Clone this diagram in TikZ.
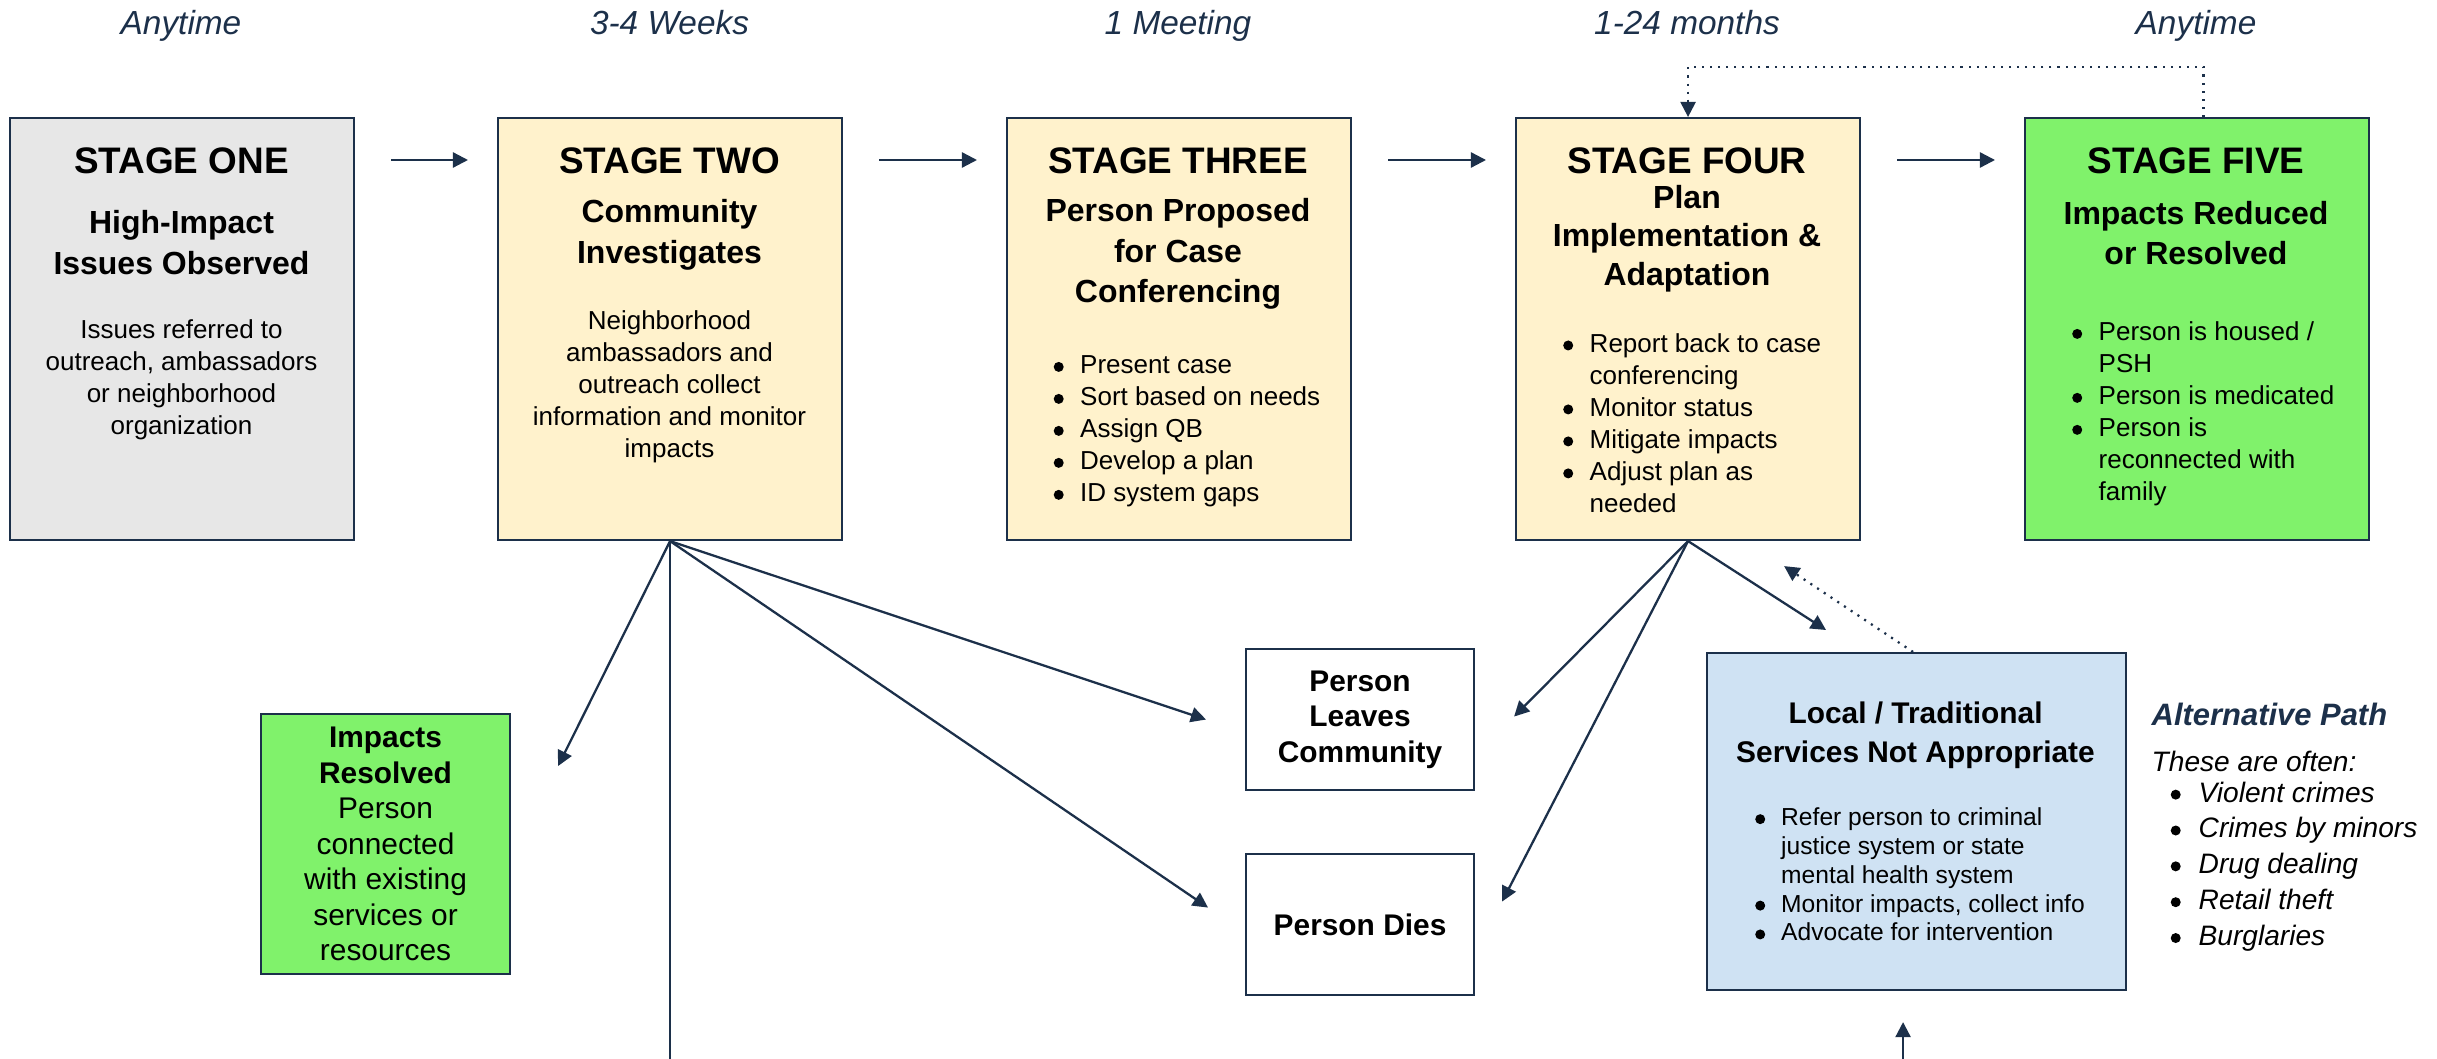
\documentclass[tikz,border=0pt]{standalone}
\usepackage{fontspec}
\setmainfont{Liberation Sans}
\usetikzlibrary{arrows.meta,positioning}

\definecolor{navy}{HTML}{1C304A}
\definecolor{stagegrey}{HTML}{E7E7E7}
\definecolor{stagecream}{HTML}{FFF2CC}
\definecolor{stagegreen}{HTML}{80F26B}
\definecolor{altblue}{HTML}{CFE2F3}

% bullet and hanging indent for the lists
\newcommand{\bdot}{\tikz[baseline=-0.5ex]\fill[black] (0,0) circle (0.5mm);}
\newcommand{\bul}[1][2.65mm]{\makebox[#1][l]{\bdot}}
\newcommand{\ind}[1][2.65mm]{\hspace*{#1}}

\tikzset{
  stagebox/.style={draw=navy, line width=0.6pt, anchor=north west, inner sep=0pt,
                   minimum width=34.4mm, minimum height=42.2mm},
  sidebox/.style={draw=navy, line width=0.6pt, anchor=north west, inner sep=0pt,
                  align=center, font=\fontsize{8.5}{10.1}\selectfont},
  sidebold/.style={sidebox, font=\fontsize{8.5}{10.1}\bfseries\selectfont},
  stagetitle/.style={inner sep=0pt, font=\fontsize{10.5}{12}\bfseries\selectfont},
  stagesub/.style={inner sep=0pt, align=center, font=\fontsize{9.1}{11.6}\bfseries\selectfont},
  stagebody/.style={inner sep=0pt, align=center, font=\fontsize{7.4}{9.1}\selectfont},
  stagelist/.style={inner sep=0pt, anchor=west, align=left, font=\fontsize{7.4}{9.1}\selectfont},
  timelabel/.style={inner sep=0pt, anchor=base, text=navy, font=\fontsize{9.5}{11}\itshape\selectfont},
  flow/.style={draw=navy, line width=0.65pt, -{Triangle[length=4.3pt,width=4.3pt]}},
  dotflow/.style={flow, dash pattern=on 0.6pt off 1.7pt},
}

\begin{document}
\begin{tikzpicture}[x=0.1mm, y=-0.1mm]
\useasboundingbox (0,0) rectangle (2437,1059);
\coordinate (bottom) at (0,1059);

% time line
\node[timelabel] (t1) at (181,35) {Anytime};
\node[timelabel] (t2) at (669.5,35) {3-4 Weeks};
\node[timelabel] (t3) at (1178,35) {1 Meeting};
\node[timelabel] (t4) at (1687,35) {1-24 months};
\node[timelabel] (t5) at (2196,35) {Anytime};

% stages
\node[stagebox, fill=stagegrey] (s1) at (9,117) {};
\node[stagebox, fill=stagecream] (s2) at (497,117) {};
\node[stagebox, fill=stagecream] (s3) at (1006,117) {};
\node[stagebox, fill=stagecream] (s4) at (1515,117) {};
\node[stagebox, fill=stagegreen] (s5) at (2024,117) {};

\node[stagetitle] (s1t) at (181.5,161) {STAGE ONE};
\node[stagesub] (s1s) at (181.5,242.5) {High-Impact\\Issues Observed};
\node[stagebody] (s1b) at (181.5,379.5) {Issues referred to\\outreach, ambassadors\\or neighborhood\\organization};

\node[stagetitle] (s2t) at (669.5,161) {STAGE TWO};
\node[stagesub] (s2s) at (669.5,234.5) {Community\\Investigates};
\node[stagebody] (s2b) at (669.5,387) {Neighborhood\\ambassadors and\\outreach collect\\information and monitor\\impacts};

\node[stagetitle] (s3t) at (1178,161) {STAGE THREE};
\node[stagesub] (s3s) at (1178,254) {Person Proposed\\for Case\\Conferencing};
\node[stagelist] (s3l) at (1053,431.5) {\bul Present case\\\bul Sort based on needs\\\bul Assign QB\\\bul Develop a plan\\\bul ID system gaps};

\node[stagetitle] (s4t) at (1687,161) {STAGE FOUR};
\node[stagesub, font=\fontsize{9.1}{11}\bfseries\selectfont] (s4s) at (1687,238.5) {Plan\\Implementation \&\\Adaptation};
\node[stagelist] (s4l) at (1562.5,423) {\bul Report back to case\\\ind conferencing\\\bul Monitor status\\\bul Mitigate impacts\\\bul Adjust plan as\\\ind needed};

\node[stagetitle] (s5t) at (2196,161) {STAGE FIVE};
\node[stagesub] (s5s) at (2196,233) {Impacts Reduced\\or Resolved};
\node[stagelist] (s5l) at (2071.5,414) {\bul Person is housed /\\\ind PSH\\\bul Person is medicated\\\bul Person is\\\ind reconnected with\\\ind family};

\foreach \a/\b in {s1/s2,s2/s3,s3/s4,s4/s5}
  \draw[flow] ([shift={(36,43)}]\a.north east) -- ([shift={(-29,43)}]\b.north west);
\draw[dotflow] ([xshift=0.65mm]s5.north) -- ++(0,-50) -| (s4.north);

% outcomes
\node[sidebox, fill=stagegreen, minimum width=24.9mm, minimum height=26mm] (resolved) at (260,713)
  {\textbf{Impacts}\\\textbf{Resolved}\\Person\\connected\\with existing\\services or\\resources};
\node[sidebold, fill=white, minimum width=22.8mm, minimum height=14.1mm] (leaves) at (1245,648) {Person\\Leaves\\Community};
\node[sidebold, fill=white, minimum width=22.8mm, minimum height=14.1mm] (dies) at (1245,853) {Person Dies};

\node[sidebox, fill=altblue, minimum width=41.9mm, minimum height=33.7mm] (local) at (1706,652) {};
\node[inner sep=0pt, align=center, font=\fontsize{8.5}{11.1}\bfseries\selectfont] (localt) at (1915.5,735.5)
  {Local / Traditional\\Services Not Appropriate};
\node[stagelist, font=\fontsize{7}{8.2}\selectfont] (locall) at (1754.5,874.5)
  {\bul[2.6mm]Refer person to criminal\\\ind[2.6mm]justice system or state\\\ind[2.6mm]mental health system\\\bul[2.6mm]Monitor impacts, collect info\\\bul[2.6mm]Advocate for intervention};

\node[inner sep=0pt, anchor=west, text=navy, font=\fontsize{8.8}{10}\bfseries\itshape\selectfont] (altt) at (2151,714) {Alternative Path};
\node[inner sep=0pt, anchor=west, font=\fontsize{8}{10}\itshape\selectfont] (altn) at (2151,761) {These are often:};
\node[stagelist, font=\fontsize{8}{10.2}\itshape\selectfont] (altl) at (2170,866.5)
  {\bul[2.8mm]Violent crimes\\\bul[2.8mm]Crimes by minors\\\bul[2.8mm]Drug dealing\\\bul[2.8mm]Retail theft\\\bul[2.8mm]Burglaries};

% stage two branches
\draw[navy, line width=0.65pt] (s2.south) -- (s2.south |- bottom);
\draw[flow] (s2.south) -- ([shift={(47,53)}]resolved.north east);
\draw[flow] (s2.south) -- ([xshift=-3.9mm]leaves.west);
\draw[flow] (s2.south) -- ([shift={(-37,-17)}]dies.west);

% stage four branches
\draw[flow] (s4.south) -- ([shift={(39,-3)}]leaves.east);
\draw[flow] (s4.south) -- ([shift={(27,-23)}]dies.east);
\draw[flow] (s4.south) -- ([shift={(120,-22)}]local.north west);
\draw[dotflow] ([xshift=-0.35mm]local.north) -- ([shift={(-77,25)}]s4.south east);
\coordinate (localin) at ([shift={(-13.5,31)}]local.south);
\draw[flow] (localin |- bottom) -- (localin);
\end{tikzpicture}
\end{document}
